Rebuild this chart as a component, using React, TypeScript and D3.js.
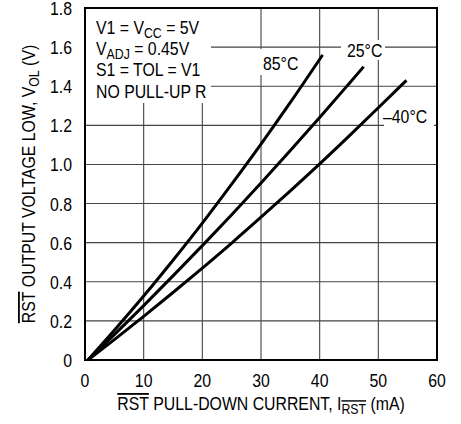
import React from "react";
import * as d3 from "d3";

const xTicks = [0, 10, 20, 30, 40, 50, 60];
const yTicks = [0, 0.2, 0.4, 0.6, 0.8, 1.0, 1.2, 1.4, 1.6, 1.8];
const yTickLabels = ["0", "0.2", "0.4", "0.6", "0.8", "1.0", "1.2", "1.4", "1.6", "1.8"];

const i85 = [0.5, 5, 10, 15, 20, 25, 30, 35, 40.5];
const v85 = [0, 0.152, 0.327, 0.51, 0.7, 0.899, 1.104, 1.317, 1.56];
const i25 = [0.5, 5, 10, 15, 20, 25, 30, 35, 40, 45, 47.5];
const v25 = [0, 0.13, 0.278, 0.43, 0.585, 0.743, 0.905, 1.071, 1.24, 1.413, 1.5];
const iM40 = [0.5, 5, 10, 15, 20, 25, 30, 35, 40, 45, 50, 54.8];
const vM40 = [0, 0.104, 0.223, 0.345, 0.47, 0.598, 0.73, 0.865, 1.003, 1.145, 1.29, 1.43];

const FONT = "'Liberation Sans', Arial, Helvetica, sans-serif";
const SX = 0.88;

function T(props: {
  x: number;
  y: number;
  anchor?: string;
  rotate?: boolean;
  size?: number;
  children: React.ReactNode;
}) {
  const { x, y, anchor = "start", rotate = false, size = 18, children } = props;
  return (
    <text
      transform={`translate(${x},${y})${rotate ? " rotate(-90)" : ""} scale(${SX},1)`}
      textAnchor={anchor}
      fontSize={size}
      fill="#000"
    >
      {children}
    </text>
  );
}

export default function App() {
  const W = 461, H = 424;
  const x = d3.scaleLinear().domain([0, 60]).range([85, 437]);
  const y = d3.scaleLinear().domain([0, 1.8]).range([360, 8]);
  const line = d3
    .line<[number, number]>()
    .x((d) => x(d[0]))
    .y((d) => y(d[1]))
    .curve(d3.curveMonotoneX);
  const series = [
    { i: i85, v: v85 },
    { i: i25, v: v25 },
    { i: iM40, v: vM40 },
  ];
  const sub = 14;
  return (
    <svg
      width={W}
      height={H}
      style={{ position: "absolute", left: 0, top: 0, background: "#fff" }}
      fontFamily={FONT}
    >
      <rect x={0} y={0} width={W} height={H} fill="#fff" />
      {/* grid */}
      {xTicks.slice(1, -1).map((t) => (
        <line key={"gx" + t} x1={x(t)} x2={x(t)} y1={y(0)} y2={y(1.8)} stroke="#444" strokeWidth={1.1} />
      ))}
      {yTicks.slice(1, -1).map((t) => (
        <line key={"gy" + t} x1={x(0)} x2={x(60)} y1={y(t)} y2={y(t)} stroke="#444" strokeWidth={1.1} />
      ))}
      {/* label backgrounds */}
      <rect x={x(0) + 1} y={y(1.8) + 1} width={211 - x(0) - 1} height={103 - y(1.8) - 1} fill="#fff" />
      <rect x={258} y={49} width={46} height={26} fill="#fff" />
      <rect x={341} y={40} width={44} height={20} fill="#fff" />
      <rect x={384} y={104} width={50} height={24} fill="#fff" />
      {/* curves */}
      {series.map((s, k) => (
        <path
          key={k}
          d={line(s.i.map((v, j) => [v, s.v[j]] as [number, number])) || ""}
          fill="none"
          stroke="#000"
          strokeWidth={3}
          strokeLinecap="butt"
        />
      ))}
      {/* frame */}
      <rect x={x(0)} y={y(1.8)} width={x(60) - x(0)} height={y(0) - y(1.8)} fill="none" stroke="#000" strokeWidth={2} />
      {/* y tick labels */}
      {yTicks.map((t, k) => (
        <T key={"yl" + t} x={72} y={y(t) + 7} anchor="end">
          {yTickLabels[k]}
        </T>
      ))}
      {/* x tick labels */}
      {xTicks.map((t) => (
        <T key={"xl" + t} x={x(t)} y={387} anchor="middle">
          {t}
        </T>
      ))}
      {/* annotation */}
      <T x={96} y={34}>
        V1 = V<tspan fontSize={sub} dy={4}>CC</tspan>
        <tspan dy={-4}> = 5V</tspan>
      </T>
      <T x={96} y={55}>
        V<tspan fontSize={sub} dy={4}>ADJ</tspan>
        <tspan dy={-4}> = 0.45V</tspan>
      </T>
      <T x={96} y={76}>S1 = TOL = V1</T>
      <T x={96} y={98}>NO PULL-UP R</T>
      <T x={263} y={70}>85°C</T>
      <T x={347} y={57}>25°C</T>
      <T x={383} y={123}>–40°C</T>
      {/* x axis title */}
      <T x={261} y={410} anchor="middle">
        <tspan textDecoration="overline">RST</tspan> PULL-DOWN CURRENT, I
        <tspan fontSize={sub} dy={4} textDecoration="overline">RST</tspan>
        <tspan dy={-4}> (mA)</tspan>
      </T>
      {/* y axis title */}
      <T x={35} y={y(0.9)} anchor="middle" rotate>
        <tspan textDecoration="overline">RST</tspan> OUTPUT VOLTAGE LOW, V
        <tspan fontSize={sub} dy={4}>OL</tspan>
        <tspan dy={-4}> (V)</tspan>
      </T>
    </svg>
  );
}
